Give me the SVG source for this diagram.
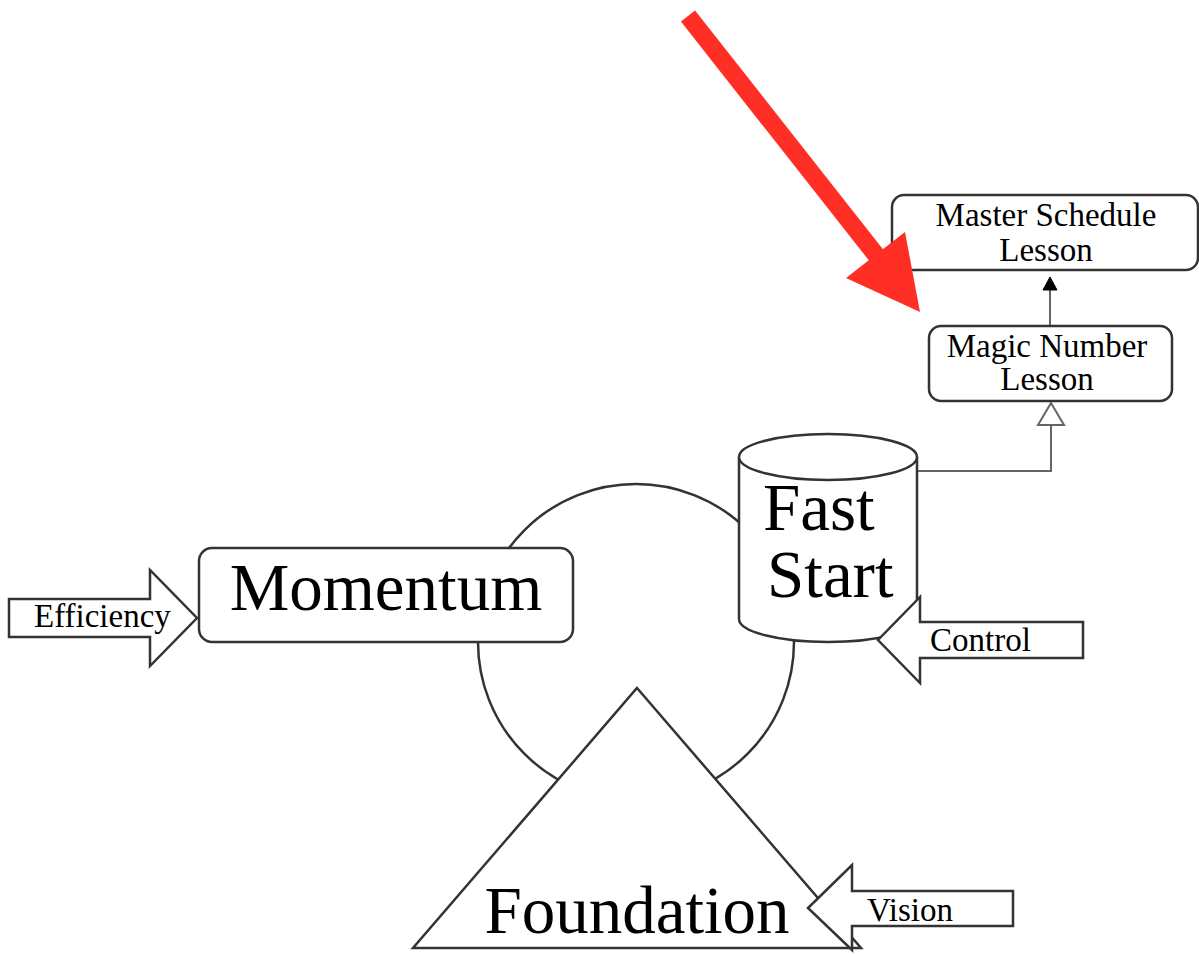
<svg xmlns="http://www.w3.org/2000/svg" width="1199" height="954" viewBox="0 0 1199 954">
<style>
.node{fill:#fff;stroke:#333;stroke-width:2.5}
.conn{fill:none;stroke:#666;stroke-width:2}
text{font-family:"Liberation Serif","Times New Roman",serif;fill:#000}
.big{font-size:67px}
.small{font-size:33px}
.mid{text-anchor:middle}
</style>
<rect width="1199" height="954" fill="#fff"/>
<g id="cycle">
<circle class="node" cx="636" cy="642" r="158"/>
</g>
<g id="connectors">
<path class="conn" d="M917,471 H1051 V425"/>
<polygon points="1051,403 1064,425 1038,425" fill="#fff" stroke="#666" stroke-width="2"/>
<path class="conn" d="M1050,326 V289"/>
<polygon points="1050,277 1057,290 1043,290" fill="#000" stroke="#000" stroke-width="1"/>
</g>
<g id="momentum">
<rect class="node" x="199" y="548" width="374" height="94" rx="13"/>
<text class="big mid" x="386" y="610">Momentum</text>
</g>
<g id="fast-start">
<path class="node" d="M739,457 V619 A89,23 0 0 0 917,619 V457 A89,23 0 0 0 739,457 Z"/>
<path class="node" fill="none" d="M739,457 A89,23 0 0 0 917,457"/>
<text class="big" x="763" y="530">Fast</text>
<text class="big" x="767" y="597">Start</text>
</g>
<g id="foundation">
<polygon class="node" points="637,688 861,948 413,948"/>
<text class="big mid" x="637" y="933">Foundation</text>
</g>
<g id="efficiency">
<polygon class="node" points="9,599 150,599 150,570 197,618 150,666 150,637 9,637"/>
<text class="small" x="34" y="627">Efficiency</text>
</g>
<g id="control">
<polygon class="node" points="1083,622 920,622 920,597 878,640 920,683 920,658 1083,658"/>
<text class="small" x="930" y="651">Control</text>
</g>
<g id="vision">
<polygon class="node" points="1013,891 852,891 852,865 808,908 852,950 852,926 1013,926"/>
<text class="small" x="867" y="921">Vision</text>
</g>
<g id="magic-number">
<rect class="node" x="929" y="326" width="243" height="75" rx="12"/>
<text class="small mid" x="1047" y="357">Magic Number</text>
<text class="small mid" x="1047" y="390">Lesson</text>
</g>
<g id="master-schedule">
<rect class="node" x="892" y="195" width="306" height="75" rx="12"/>
<text class="small mid" x="1046" y="226">Master Schedule</text>
<text class="small mid" x="1046" y="261">Lesson</text>
</g>
<g id="red-arrow">
<line x1="688" y1="16" x2="880" y2="260" stroke="#ff2f25" stroke-width="18"/>
<polygon points="920,312 846,278 905,232" fill="#ff2f25"/>
</g>
</svg>
